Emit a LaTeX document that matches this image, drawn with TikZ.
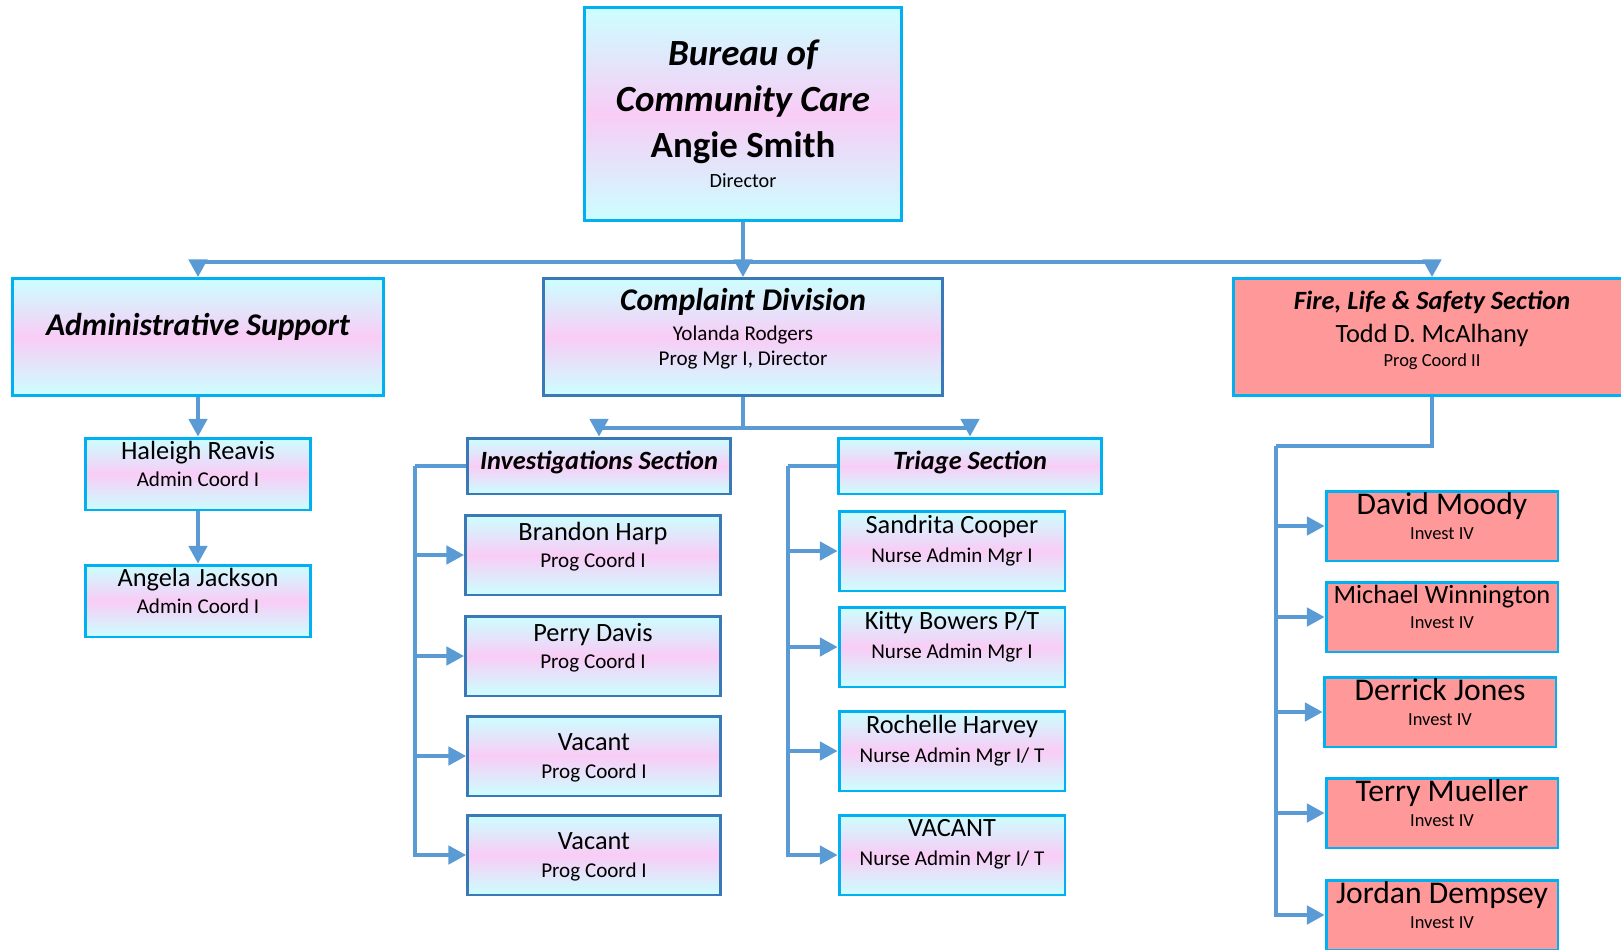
\documentclass[tikz,border=0pt]{standalone}
\usepackage{fontspec}
\setmainfont{Carlito}
\usetikzlibrary{arrows.meta}
\definecolor{cyanL}{HTML}{CCFFFF}
\definecolor{pinkL}{HTML}{F9CCF6}
\definecolor{edgeC}{HTML}{00B0F0}
\definecolor{edgeB}{HTML}{3A78B8}
\definecolor{wireC}{HTML}{5B9BD5}
\definecolor{salmon}{HTML}{FF9999}
\begin{document}
\begin{tikzpicture}[x=0.02cm,y=-0.02cm,
  link/.style={draw=wireC, line width=1.8pt},
  feed/.style={link, -{Triangle[length=10pt,width=10.5pt]}},
  box/.style={rectangle, draw=edgeC, line width=1.7pt, align=center, inner sep=0pt, text depth=12pt},
  grad node/.style={box, top color=cyanL, bottom color=cyanL, middle color=pinkL},
  fire node/.style={box, fill=salmon},
  sec node/.style={grad node, minimum width=5.28cm, minimum height=1.12cm, text depth=6.5pt,
    font=\fontsize{15}{18}\selectfont\bfseries\itshape},
  adm node/.style={grad node, minimum width=4.5cm, minimum height=1.44cm, font=\fontsize{12}{15.4}\selectfont},
  inv node/.style={grad node, draw=edgeB, minimum width=5.1cm, minimum height=1.6cm, font=\fontsize{12}{15.4}\selectfont},
  tri node/.style={grad node, minimum width=4.52cm, minimum height=1.6cm, text depth=14pt,
    font=\fontsize{12}{16.5}\selectfont},
  fls node/.style={fire node, minimum width=4.64cm, minimum height=1.4cm, text depth=11.5pt,
    font=\fontsize{10.5}{14.2}\selectfont}]

\useasboundingbox (0,0) rectangle (1621,949);

% top
\node[grad node, minimum width=6.36cm, minimum height=4.28cm, text depth=0pt,
  font=\fontsize{21}{26.2}\selectfont] (bcc) at (743,114)
  {\bfseries\itshape Bureau of\\ \bfseries\itshape Community Care\\ \bfseries Angie Smith\\[-9pt]
   \fontsize{11.5}{14}\selectfont Director};

% second row
\node[grad node, minimum width=7.42cm, minimum height=2.34cm, text depth=14pt,
  font=\fontsize{18}{22}\selectfont\bfseries\itshape] (adm) at (198,337) {Administrative Support};
\node[grad node, draw=edgeB, minimum width=7.98cm, minimum height=2.34cm, text depth=11.5pt,
  font=\fontsize{12}{14.2}\selectfont] (cd) at (743,337)
  {\fontsize{18}{22}\selectfont\bfseries\itshape Complaint Division\\[2.8pt] Yolanda Rodgers\\ Prog Mgr I, Director};
\node[fire node, minimum width=7.96cm, minimum height=2.34cm, text depth=9.5pt,
  font=\fontsize{10.5}{13.7}\selectfont] (fls) at (1432,337)
  {\fontsize{15}{18}\selectfont\bfseries\itshape Fire, Life \& Safety Section\\[5pt]
   \fontsize{15}{18}\selectfont Todd D. McAlhany\\ Prog Coord II};

% admin support
\node[adm node] (hr) at (198,474) {\fontsize{15}{18}\selectfont Haleigh Reavis\\ Admin Coord I};
\node[adm node] (aj) at (198,601) {\fontsize{15}{18}\selectfont Angela Jackson\\ Admin Coord I};

% complaint sections
\node[sec node, draw=edgeB] (inv) at (599,466) {Investigations Section};
\node[sec node, minimum width=5.26cm] (tri) at (970,466) {Triage Section};

\node[inv node] (bh) at (593,555) {\fontsize{15}{18}\selectfont Brandon Harp\\ Prog Coord I};
\node[inv node] (pd) at (593,656) {\fontsize{15}{18}\selectfont Perry Davis\\ Prog Coord I};
\node[inv node, minimum width=5.06cm, text depth=0pt] (va1) at (594,756)
  {\fontsize{15}{18}\selectfont Vacant\\[0.8pt] Prog Coord I};
\node[inv node, minimum width=5.06cm, text depth=0pt] (va2) at (594,855)
  {\fontsize{15}{18}\selectfont Vacant\\[0.8pt] Prog Coord I};

\node[tri node] (sc) at (952,551) {\fontsize{15}{18}\selectfont Sandrita Cooper\\ Nurse Admin Mgr I};
\node[tri node] (kb) at (952,647) {\fontsize{15}{18}\selectfont Kitty Bowers P/T\\ Nurse Admin Mgr I};
\node[tri node] (rh) at (952,751) {\fontsize{15}{18}\selectfont Rochelle Harvey\\ Nurse Admin Mgr I/ T};
\node[tri node] (vn) at (952,855) {\fontsize{15}{18}\selectfont VACANT\\ Nurse Admin Mgr I/ T};

% fire, life & safety
\node[fls node] (dm) at (1442,526) {\fontsize{18}{21}\selectfont David Moody\\ Invest IV};
\node[fls node] (mw) at (1442,617) {\fontsize{15}{18}\selectfont Michael Winnington\\ Invest IV};
\node[fls node] (dj) at (1440,712) {\fontsize{18}{21}\selectfont Derrick Jones\\ Invest IV};
\node[fls node] (tm) at (1442,813) {\fontsize{18}{21}\selectfont Terry Mueller\\ Invest IV};
\node[fls node] (jd) at (1442,915) {\fontsize{18}{21}\selectfont Jordan Dempsey\\ Invest IV};

% connectors
\coordinate (bus) at (743,262);
\draw[feed] (bcc.south) -- (cd.north);
\draw[feed] (bus) -| (adm.north);
\draw[feed] (bus) -| (fls.north);
\draw[feed] (adm.south) -- (hr.north);
\draw[feed] (hr.south) -- (aj.north);

\coordinate (cdbus) at (743,428);
\draw[link] (cd.south) -- (cdbus);
\draw[feed] (cdbus) -| (inv.north);
\draw[feed] (cdbus) -| (tri.north);

\coordinate (ibus) at (415,466);
\draw[link] (inv.west) -- (ibus);
\foreach \n in {bh,pd,va1,va2} \draw[feed] (ibus) |- (\n.west);

\coordinate (tbus) at (788,466);
\draw[link] (tri.west) -- (tbus);
\foreach \n in {sc,kb,rh,vn} \draw[feed] (tbus) |- (\n.west);

\coordinate (fbus) at (1276,446);
\draw[link] (fls.south) |- (fbus);
\foreach \n in {dm,mw,dj,tm,jd} \draw[feed] (fbus) |- (\n.west);
\end{tikzpicture}
\end{document}
